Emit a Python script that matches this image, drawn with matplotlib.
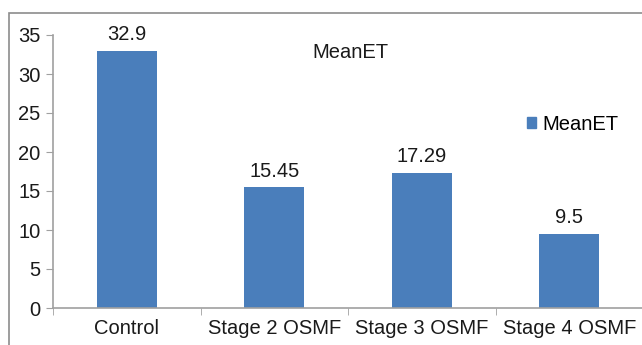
import matplotlib
matplotlib.use("Agg")
import matplotlib.pyplot as plt
from matplotlib.patches import Rectangle, Patch

plt.rcParams["font.family"] = ["Liberation Sans", "DejaVu Sans"]

groups = ["Control", "Stage 2 OSMF", "Stage 3 OSMF", "Stage 4 OSMF"]
mean_et = [32.9, 15.45, 17.29, 9.5]
value_labels = ["32.9", "15.45", "17.29", "9.5"]
series_name = "MeanET"

W, H = 642, 345
fs = 14.5
fig = plt.figure(figsize=(W / 100, H / 100), dpi=100)

# outer chart frame
fig.patches.append(Rectangle((9 / W, -0.1), 1.2, 1 - 13 / H + 0.1, transform=fig.transFigure,
                             fill=False, edgecolor="#8c8c8c", linewidth=1.2))

ax = fig.add_axes([53 / W, 1 - 308 / H, 590 / W, 273 / H])
x = range(len(groups))
bars = ax.bar(x, mean_et, width=0.41, color="#4a7ebb", label=series_name)

for b, lab in zip(bars, value_labels):
    ax.annotate(lab, (b.get_x() + b.get_width() / 2, b.get_height()),
                xytext=(0, 5), textcoords="offset points",
                ha="center", va="bottom", fontsize=fs, color="#1a1a1a")

ax.set_xlim(-0.5, len(groups) - 0.5)
ax.set_ylim(0, 35)
ax.set_yticks(range(0, 36, 5))
ax.set_xticks(list(x))
ax.set_xticklabels(groups)
ax.set_xticks([i - 0.5 for i in range(len(groups) + 1)], minor=True)
ax.tick_params(axis="x", which="major", length=0, labelsize=fs, pad=8, colors="#1a1a1a")
ax.tick_params(axis="x", which="minor", length=5, color="#a0a0a0")
ax.tick_params(axis="y", length=5, color="#a0a0a0", labelsize=fs, colors="#1a1a1a", pad=4)

for s in ["top", "right"]:
    ax.spines[s].set_visible(False)
for s in ["left", "bottom"]:
    ax.spines[s].set_color("#a0a0a0")
    ax.spines[s].set_linewidth(1.2)

ax.text(350 / W, 1 - 52 / H, series_name, transform=fig.transFigure,
        ha="center", va="center", fontsize=fs, color="#1a1a1a")

ax.legend(handles=[Patch(color="#4a7ebb", label=series_name)],
          loc="center left", bbox_to_anchor=(527 / W, 1 - 124 / H),
          bbox_transform=fig.transFigure, frameon=False, fontsize=fs,
          handlelength=0.45, handleheight=0.45, handletextpad=0.3, borderpad=0,
          borderaxespad=0)

fig.savefig("out.png", dpi=100)
